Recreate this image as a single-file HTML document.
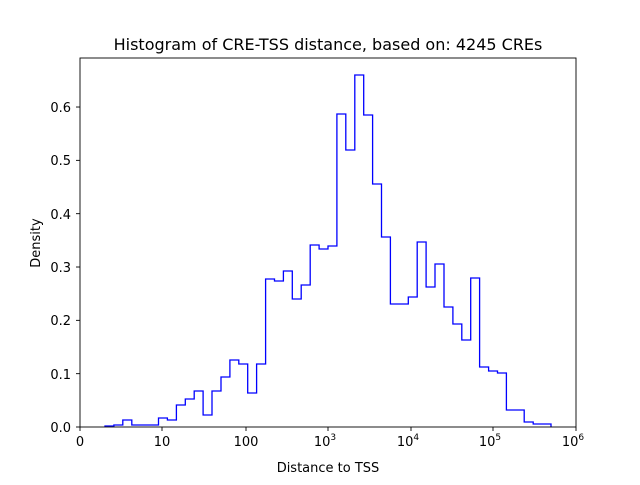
<!DOCTYPE html>
<html><head><meta charset="utf-8"><style>
html,body{margin:0;padding:0;background:#fff;}
svg text{font-family:"DejaVu Sans","Liberation Sans",sans-serif;fill:#000;}
</style></head><body>
<svg id="s" width="640" height="480" viewBox="0 0 640 480" xmlns="http://www.w3.org/2000/svg">
<rect width="640" height="480" fill="#fff"/>
<path id="h" fill="none" stroke="#0000ff" stroke-width="1.3" stroke-linejoin="miter"/>
<rect x="80" y="58" width="496" height="369" fill="none" stroke="#000" stroke-width="0.9"/>
<g id="ticks" stroke="#000" stroke-width="0.9"></g>
<text x="328" y="50" font-size="16" text-anchor="middle">Histogram of CRE-TSS distance, based on: 4245 CREs</text>
<g font-size="13" text-anchor="middle">
<text x="80" y="446">0</text>
<text x="162" y="446">10</text>
<text x="246" y="446">100</text>
<text x="325" y="446">10<tspan font-size="9" dy="-6">3</tspan></text>
<text x="408" y="446">10<tspan font-size="9" dy="-6">4</tspan></text>
<text x="490" y="446">10<tspan font-size="9" dy="-6">5</tspan></text>
<text x="573" y="446">10<tspan font-size="9" dy="-6">6</tspan></text>
<text x="328" y="472">Distance to TSS</text>
</g>
<g font-size="13" text-anchor="end">
<text x="71" y="432">0.0</text>
<text x="71" y="379">0.1</text>
<text x="71" y="325">0.2</text>
<text x="71" y="272">0.3</text>
<text x="71" y="219">0.4</text>
<text x="71" y="165">0.5</text>
<text x="71" y="112">0.6</text>
</g>
<text font-size="13" text-anchor="middle" transform="translate(40,243) rotate(-90)">Density</text>
</svg>
<script>
var ys=[426,425,420,425,425,425,418,420,405,399,391,415,391,377,360,364,393,364,279,281,271,299,285,245,249,246,114,150,75,115,184,237,304,304,297,242,287,264,307,324,340,278,367,371,373,410,410,422,424,424];
var d="M105,427";
for(var i=0;i<ys.length;i++){var x0=105+8.92*i,x1=x0+8.92;d+=" L"+x0.toFixed(1)+","+ys[i]+" L"+x1.toFixed(1)+","+ys[i];}
d+=" L"+(105+8.92*50).toFixed(1)+",427";
document.getElementById("h").setAttribute("d",d);
var g=document.getElementById("ticks"),t="";
[80,162,246,328,411,493,576].forEach(function(x){t+='<line x1="'+x+'" y1="427" x2="'+x+'" y2="431"/>';});
for(var k=0;k<=6;k++){var y=427-53.33*k;t+='<line x1="76" y1="'+y+'" x2="80" y2="'+y+'"/>';}
g.innerHTML=t;
</script>
</body></html>
